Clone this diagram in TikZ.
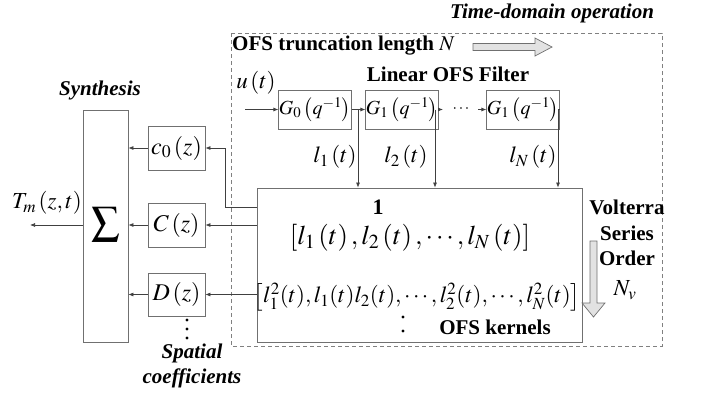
\documentclass[tikz,border=0pt]{standalone}
\usepackage{mathptmx}
\usepackage{fontspec}
\setmainfont{Liberation Serif}
\newfontfamily\tnr{Liberation Serif}
\usetikzlibrary{arrows.meta}
\definecolor{boxgray}{HTML}{707070}
\definecolor{linegray}{HTML}{404040}
\definecolor{dashgray}{HTML}{808080}
\definecolor{fillgray}{HTML}{E2E2E2}
\newcommand{\fs}[1]{\fontsize{#1}{#1}\selectfont}
\begin{document}
\begin{tikzpicture}[x=1pt,y=-1pt,
  blk/.style={draw=boxgray, line width=0.8pt, inner sep=0pt, minimum width=#1},
  wire/.style={draw=linegray, line width=0.7pt},
  arr/.style={wire, -{Latex[length=5pt,width=4pt]}},
  lbl/.style={inner sep=0pt, text=black},
  bold/.style={lbl, font=\tnr\fs{21}\bfseries},
  bital/.style={lbl, font=\tnr\fs{21}\bfseries\itshape},
  hollow/.style={draw=boxgray, fill=fillgray, line width=0.7pt}
]
\useasboundingbox (0,0) rectangle (705,394);

% dashed time-domain region
\draw[dashgray, dash pattern=on 4pt off 3pt, line width=0.8pt] (231,33) rectangle (662,346);

% labels
\node[bital] (tdo) at (552,13) {Time-domain operation};
\node[bold, anchor=west] (otl) at (232,46) {OFS truncation length $N$};
\node[bold] (lof) at (448,74) {Linear OFS Filter};
\node[bital] (syn) at (100,90) {Synthesis};
\node[bital] (spa) at (192,353) {Spatial};
\node[bital] (coe) at (192,378) {coefficients};

% hollow arrows
\draw[hollow] (473,43.5) -- (535,43.5) -- (535,38) -- (552,47) -- (535,56) -- (535,50.5) -- (473,50.5) -- cycle;
\draw[hollow] (590,241) -- (597,241) -- (597,303) -- (605,303) -- (593.5,317) -- (582,303) -- (590,303) -- cycle;

% filter blocks
\node[blk=66pt, minimum height=39pt, font=\fs{20}] (G0) at (315,109.5) {$G_0\left(q^{-1}\right)$};
\node[blk=60pt, minimum height=39pt, font=\fs{20}] (G1) at (402,109.5) {$G_1\left(q^{-1}\right)$};
\node[blk=58pt, minimum height=39pt, font=\fs{20}] (GN) at (523,109.5) {$G_1\left(q^{-1}\right)$};

\node[lbl, font=\fs{23}] (u) at (256,83) {$u\left(t\right)$};
\coordinate (uin) at (245,109.5);
\draw[arr] (uin) -- (G0.west);

% kernel box
\node[blk=325pt, minimum height=154pt] (K) at (419.5,265) {};
\node[lbl, font=\tnr\fs{22}\bfseries] (one) at (378,207) {1};
\node[lbl, font=\fs{27}] (row1) at (410,238) {$\left[l_1\left(t\right),l_2\left(t\right),\cdots,l_N\left(t\right)\right]$};
\node[lbl, font=\fs{23}] (row2) at (417,297) {$\left[l_1^2(t),l_1(t)l_2(t),\cdots,l_2^2(t),\cdots,l_N^2(t)\right]$};
\fill[black] (403,317) circle (1.6pt) (403,331) circle (1.6pt);
\node[bold] (ofk) at (495,327) {OFS kernels};

% volterra label
\node[bold] (vo1) at (627,207) {Volterra};
\node[bold] (vo2) at (627,233) {Series};
\node[bold] (vo3) at (627,258) {Order};
\node[lbl, font=\fs{23}] (nv) at (625,290) {$N_v$};

% filter chain wiring
\coordinate (j1) at (358,109.5);
\coordinate (j2) at (435,109.5);
\coordinate (j2a) at (443,109.5);
\coordinate (j3) at (478,109.5);
\coordinate (jN) at (558,109.5);
\draw[wire] (G0.east) -- (j1);
\draw[arr] (j1) -- (G1.west);
\draw[arr] (j1) -- (j1 |- K.north);
\draw[arr] (G1.east) -- (j2a);
\draw[arr] (j2) -- (j2 |- K.north);
\node[lbl, font=\fs{16}] (dots) at (461,109.5) {$\cdots$};
\draw[arr] (j3) -- (GN.west);
\draw[wire] (GN.east) -- (jN);
\draw[arr] (jN) -- (jN |- K.north);

\node[lbl, font=\fs{23}] (l1) at (335,157) {$l_1\left(t\right)$};
\node[lbl, font=\fs{23}] (l2) at (406,157) {$l_2\left(t\right)$};
\node[lbl, font=\fs{23}] (lN) at (533,157) {$l_N\left(t\right)$};

% synthesis side
\node[blk=45pt, minimum height=232pt] (S) at (105.5,226) {};
\node[lbl, font=\fs{28}] (sig) at (105.5,225) {$\displaystyle\sum$};
\node[blk=57pt, minimum height=44pt, font=\fs{24}] (c0) at (176.5,148) {$c_0\left(z\right)$};
\node[blk=57pt, minimum height=44pt, font=\fs{24}] (C) at (176.5,225) {$C\left(z\right)$};
\node[blk=57pt, minimum height=43pt, font=\fs{24}] (D) at (176.5,294.5) {$D\left(z\right)$};
\fill[black] (187,320) circle (1.6pt) (187,329) circle (1.6pt) (187,338) circle (1.6pt);

\coordinate (k0) at (257,207);
\coordinate (k0b) at (225,207);
\coordinate (k0c) at (225,148);
\coordinate (k1) at (257,225);
\coordinate (k2) at (257,294.5);
\draw[wire] (k0) -- (k0b) -- (k0c);
\draw[arr] (k0c) -- (c0.east);
\draw[arr] (k1) -- (C.east);
\draw[arr] (k2) -- (D.east);
\draw[arr] (c0.west) -- (c0.west -| S.east);
\draw[arr] (C.west) -- (C.west -| S.east);
\draw[arr] (D.west) -- (D.west -| S.east);

\coordinate (out) at (30,225);
\draw[arr] (S.west |- out) -- (out);
\node[lbl, font=\fs{23}] (T) at (47,203) {$T_m\left(z,t\right)$};
\end{tikzpicture}
\end{document}
